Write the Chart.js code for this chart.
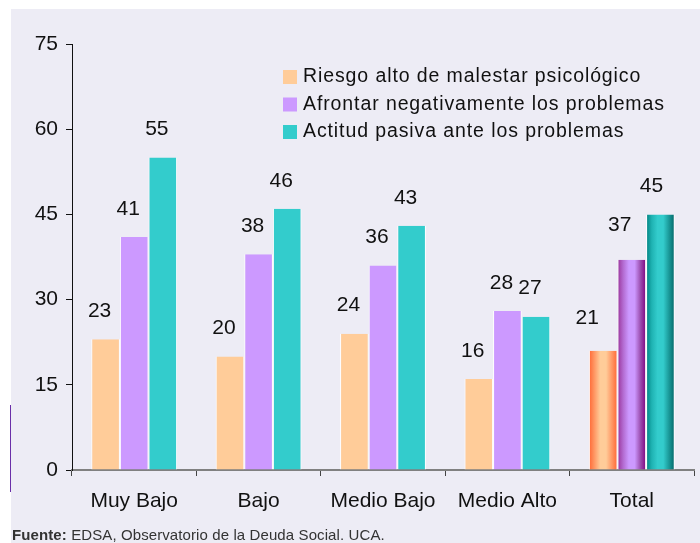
<!DOCTYPE html>
<html>
<head>
<meta charset="utf-8">
<script src="https://cdn.jsdelivr.net/npm/chart.js@4"></script>
<style>
  html, body { margin: 0; padding: 0; background: #ffffff; }
  #panel { position: absolute; left: 11px; top: 9px; right: 0; bottom: 0; background: #edecf5; }
  #wrap { position: absolute; left: 0; top: 0; width: 700px; height: 543px; }
  #mark { position: absolute; left: 10px; top: 405px; width: 1px; height: 87px; background: #6a2fa8; }
  #source { position: absolute; left: 12px; top: 526px; font: 15px "Liberation Sans", Arial, sans-serif; color: #333; letter-spacing: 0.1px; }
</style>
</head>
<body>
<div id="panel"></div>
<div id="mark"></div>
<div id="wrap"><canvas id="chart" width="700" height="543"></canvas></div>
<div id="source"><b>Fuente:</b> EDSA, Observatorio de la Deuda Social. UCA.</div>
<script>
const categories = ['Muy Bajo', 'Bajo', 'Medio Bajo', 'Medio Alto', 'Total'];
const riesgoAlto = [23, 20, 24, 16, 21];
const afrontarNeg = [41, 38, 36, 28, 37];
const actitudPasiva = [55, 46, 43, 27, 45];
const seriesNames = [
  'Riesgo alto de malestar psicológico',
  'Afrontar negativamente los problemas',
  'Actitud pasiva ante los problemas',
];
const yTicks = [0, 15, 30, 45, 60, 75];

const FONT = '"Liberation Sans", Arial, sans-serif';
const flatColors = ['#ffcc99', '#cc99ff', '#33cccc'];
// cylinder shading for the "Total" group
const cylStops = [
  ['#ff6633', '#ff9966', '#ffcc99', '#ffcc99', '#ff9966', '#ff6633'],
  ['#993399', '#b36bd1', '#cc99ff', '#cc99ff', '#9c4fb0', '#800080'],
  ['#008080', '#1fb3b3', '#33cccc', '#33cccc', '#1a9999', '#006666'],
];

function barFill(ctx) {
  const ds = ctx.datasetIndex;
  if (ctx.type !== 'data' || ctx.dataIndex !== categories.length - 1) return flatColors[ds];
  const el = ctx.chart.getDatasetMeta(ds).data[ctx.dataIndex];
  if (!el || !isFinite(el.x) || !el.width) return flatColors[ds];
  const left = el.x - el.width / 2;
  const g = ctx.chart.ctx.createLinearGradient(left, 0, left + el.width, 0);
  const stops = cylStops[ds];
  const pos = [0, 0.2, 0.4, 0.6, 0.8, 1];
  stops.forEach((c, i) => g.addColorStop(pos[i], c));
  return g;
}

const valueLabels = {
  id: 'valueLabels',
  afterDatasetsDraw(chart) {
    const { ctx } = chart;
    const totalShift = [-16, -12, -9];
    const totalLift = [33, 35, 28];
    ctx.save();
    ctx.font = '21px ' + FONT;
    ctx.fillStyle = '#111';
    ctx.textAlign = 'center';
    ctx.textBaseline = 'middle';
    chart.data.datasets.forEach((ds, di) => {
      chart.getDatasetMeta(di).data.forEach((el, i) => {
        const last = i === categories.length - 1;
        const dx = last ? totalShift[di] : -6;
        const dy = last ? totalLift[di] : 28;
        ctx.fillText(String(ds.data[i]), el.x + dx, el.y - dy);
      });
    });
    ctx.restore();
  },
};

const boxLegend = {
  id: 'boxLegend',
  afterDraw(chart) {
    const { ctx } = chart;
    ctx.save();
    ctx.font = '19.5px ' + FONT;
    ctx.letterSpacing = '0.9px';
    ctx.textBaseline = 'middle';
    ctx.textAlign = 'left';
    chart.data.datasets.forEach((ds, i) => {
      const y = 77 + i * 27.5;
      ctx.fillStyle = flatColors[i];
      ctx.fillRect(283, y - 7, 14, 14);
      ctx.fillStyle = '#111';
      ctx.fillText(ds.label, 303, y);
    });
    ctx.restore();
  },
};

const datasets = [riesgoAlto, afrontarNeg, actitudPasiva].map((vals, i) => ({
  label: seriesNames[i],
  data: vals,
  backgroundColor: barFill,
  borderColor: '#ffffff',
  borderWidth: { left: 1, right: 1, top: 0, bottom: 0 },
  borderSkipped: false,
  categoryPercentage: 0.69,
  barPercentage: 1.0,
}));

const chart = new Chart(document.getElementById('chart').getContext('2d'), {
  type: 'bar',
  data: { labels: categories, datasets },
  options: {
    responsive: false,
    animation: false,
    layout: { padding: { top: 44, right: 6, left: 0, bottom: 0 } },
    plugins: { legend: { display: false }, tooltip: { enabled: false } },
    scales: {
      x: {
        afterFit(scale) { scale.height = 73; },
        border: { color: '#808080', width: 2 },
        grid: { offset: true, drawOnChartArea: false, drawTicks: true, tickLength: 6, color: '#444' },
        ticks: { color: '#111', font: { family: FONT, size: 21 }, padding: 13 },
      },
      y: {
        min: 0,
        max: 75,
        afterFit(scale) { scale.width = 72; },
        afterBuildTicks(scale) { scale.ticks = yTicks.map(v => ({ value: v })); },
        border: { color: '#111', width: 1 },
        grid: { drawOnChartArea: false, drawTicks: true, tickLength: 6, color: '#111' },
        ticks: { color: '#111', font: { family: FONT, size: 21 }, padding: 8 },
      },
    },
  },
  plugins: [valueLabels, boxLegend],
});
// second pass so the Total bars can build gradients from their laid-out positions
chart.update();
</script>
</body>
</html>
